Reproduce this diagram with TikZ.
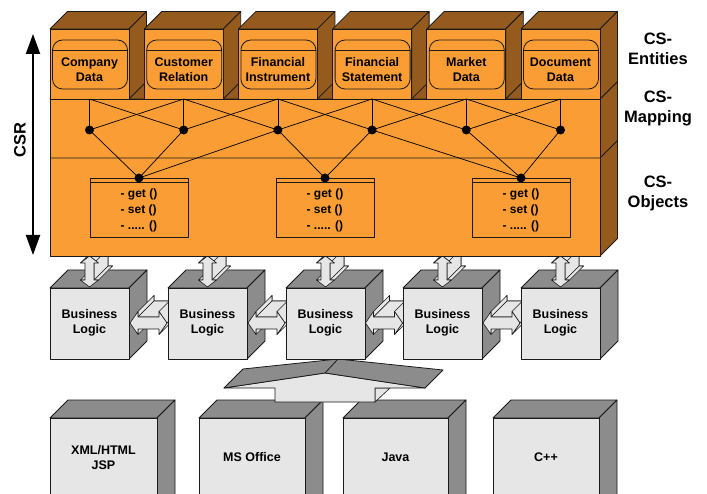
\documentclass[tikz,border=0pt]{standalone}
\usepackage{fontspec}
\setmainfont{Liberation Sans}
\usetikzlibrary{arrows.meta}
\definecolor{orF}{HTML}{FA9D35}
\definecolor{orD}{HTML}{955A1E}
\definecolor{grF}{HTML}{E6E6E6}
\definecolor{grD}{HTML}{8C8C8C}
\definecolor{ln}{HTML}{1A1A1A}
\tikzset{
  edge/.style={draw=ln, line width=0.8pt},
  thin3d/.style={fill=grF, draw=ln, line width=0.6pt},
  lbl/.style={font=\bfseries\fontsize{12.5}{15}\selectfont, align=center, text=black, inner sep=0pt},
  big/.style={font=\bfseries\fontsize{16.5}{20}\selectfont, align=center, text=black, inner sep=0pt},
  dot/.style={circle, fill=black, inner sep=0pt, minimum size=9pt},
  conn/.style={draw=black, line width=0.7pt}
}
% x, y (front top-left), w, h, depth, front colour, dark colour
\newcommand{\cubebox}[7]{%
  \filldraw[fill=#7, edge] (#1,#2) -- ++(#5,-#5) -- ++(#3,0) -- ++(-#5,#5) -- cycle;
  \filldraw[fill=#7, edge] (#1+#3,#2) -- ++(#5,-#5) -- ++(0,#4) -- ++(-#5,#5) -- cycle;
  \filldraw[fill=#6, edge] (#1,#2) rectangle ++(#3,#4);
}
\newcommand{\harrow}[1]{%
  \begin{scope}[shift={(#1)}]
    \begin{scope}[shift={(16,-16)}]
      \filldraw[thin3d] (-18.5,0) -- (-10.5,-11.5) -- (-10.5,-6) -- (10.5,-6) -- (10.5,-11.5) -- (18.5,0) -- (10.5,11.5) -- (10.5,6) -- (-10.5,6) -- (-10.5,11.5) -- cycle;
    \end{scope}
    \filldraw[thin3d] (-10.5,6) -- (-10.5,11.5) -- (5.5,-4.5) -- (5.5,-10) -- cycle;
    \filldraw[thin3d] (-10.5,-11.5) -- (-10.5,-6) -- (5.5,-22) -- (5.5,-27.5) -- cycle;
    \filldraw[thin3d] (-10.5,-6) -- (10.5,-6) -- (26.5,-22) -- (5.5,-22) -- cycle;
    \filldraw[thin3d] (10.5,-11.5) -- (18.5,0) -- (34.5,-16) -- (26.5,-27.5) -- cycle;
    \filldraw[thin3d] (18.5,0) -- (10.5,11.5) -- (26.5,-4.5) -- (34.5,-16) -- cycle;
    \filldraw[thin3d] (-18.5,0) -- (-10.5,-11.5) -- (-10.5,-6) -- (10.5,-6) -- (10.5,-11.5) -- (18.5,0) -- (10.5,11.5) -- (10.5,6) -- (-10.5,6) -- (-10.5,11.5) -- cycle;
  \end{scope}}
\newcommand{\varrow}[1]{%
  \begin{scope}[shift={(#1)}]
    \begin{scope}[shift={(14,-14)}]
      \filldraw[thin3d] (0,-15.5) -- (9,-8.5) -- (4.5,-8.5) -- (4.5,8.5) -- (9,8.5) -- (0,15.5) -- (-9,8.5) -- (-4.5,8.5) -- (-4.5,-8.5) -- (-9,-8.5) -- cycle;
    \end{scope}
    \filldraw[thin3d] (-9,8.5) -- (-4.5,8.5) -- (9.5,-5.5) -- (5,-5.5) -- cycle;
    \filldraw[thin3d] (-9,-8.5) -- (0,-15.5) -- (14,-29.5) -- (5,-22.5) -- cycle;
    \filldraw[thin3d] (0,-15.5) -- (9,-8.5) -- (23,-22.5) -- (14,-29.5) -- cycle;
    \filldraw[thin3d] (4.5,8.5) -- (9,8.5) -- (23,-5.5) -- (18.5,-5.5) -- cycle;
    \filldraw[thin3d] (4.5,-8.5) -- (4.5,8.5) -- (18.5,-5.5) -- (18.5,-22.5) -- cycle;
    \filldraw[thin3d] (0,-15.5) -- (9,-8.5) -- (4.5,-8.5) -- (4.5,8.5) -- (9,8.5) -- (0,15.5) -- (-9,8.5) -- (-4.5,8.5) -- (-4.5,-8.5) -- (-9,-8.5) -- cycle;
  \end{scope}}
\begin{document}
\begin{tikzpicture}[x=1pt,y=-1pt,line join=round]
\clip (0,0) rectangle (707,494);
\fill[white] (0,0) rectangle (707,494);

% ---------- bottom technology boxes ----------
\cubebox{50}{418}{107}{110}{18}{grF}{grD}
\cubebox{199}{418}{106}{110}{18}{grF}{grD}
\cubebox{343}{418}{105}{110}{18}{grF}{grD}
\cubebox{493}{418}{106}{110}{18}{grF}{grD}
\node[lbl] (xml)  at (103.5,457.5) {XML/HTML\\JSP};
\node[lbl] (mso)  at (252,457) {MS Office};
\node[lbl] (java) at (395.5,457) {Java};
\node[lbl] (cpp)  at (546,457) {C++};

% ---------- big 3D arrow ----------
\coordinate (ltip) at (224,388);
\coordinate (rtip) at (425,388);
\coordinate (apex) at (325,373);
\coordinate (lback) at (243,369);
\coordinate (aback) at (338,359);
\coordinate (rback) at (443,370);
\filldraw[thin3d] (375,388) -- (388,389) -- (388,389) -- (375,402) -- cycle;
\filldraw[thin3d] (375,402) -- (375,388) -- (390,388) -- cycle;
\filldraw[thin3d] (ltip) -- (apex) -- (rtip) -- (375,388) -- (375,402) -- (275,402) -- (275,388) -- cycle;
\filldraw[fill=grD, edge] (ltip) -- (lback) -- (aback) -- (rback) -- (rtip) -- (apex) -- cycle;
\draw[edge] (apex) -- (aback);

% ---------- business logic boxes with horizontal arrows ----------
\cubebox{50}{288}{79}{71}{18}{grF}{grD}
\coordinate (h1) at (148.5,323);
\harrow{h1}
\cubebox{168}{288}{79}{71}{18}{grF}{grD}
\coordinate (h2) at (266.5,323);
\harrow{h2}
\cubebox{286}{288}{79}{71}{18}{grF}{grD}
\coordinate (h3) at (384,323);
\harrow{h3}
\cubebox{403}{288}{79}{71}{18}{grF}{grD}
\coordinate (h4) at (501.5,323);
\harrow{h4}
\cubebox{521}{288}{79}{71}{18}{grF}{grD}
\node[lbl] (bl1) at (89.5,323) {Business\\Logic};
\node[lbl] (bl2) at (207.5,323) {Business\\Logic};
\node[lbl] (bl3) at (325.5,323) {Business\\Logic};
\node[lbl] (bl4) at (442.5,323) {Business\\Logic};
\node[lbl] (bl5) at (560.5,323) {Business\\Logic};

% ---------- vertical arrows ----------
\coordinate (v1) at (89.5,271.5);  \varrow{v1}
\coordinate (v2) at (207.5,271.5); \varrow{v2}
\coordinate (v3) at (325.5,271.5); \varrow{v3}
\coordinate (v4) at (442.5,271.5); \varrow{v4}
\coordinate (v5) at (560.5,271.5); \varrow{v5}

% ---------- orange block ----------
\cubebox{50}{99}{550}{157}{17.5}{orF}{orD}
\draw[edge] (50,158) -- (600,158) -- (617.5,140.5);

% entity boxes
\foreach \i/\t in {0/{Company\\Data},1/{Customer\\Relation},2/{Financial\\Instrument},3/{Financial\\Statement},4/{Market\\Data},5/{Document\\Data}} {
  \pgfmathsetmacro{\xx}{50+94.2*\i}
  \cubebox{\xx}{29}{79}{70}{17.5}{orF}{orD}
  \draw[edge, rounded corners=10pt] (\xx+2.5,40) rectangle (\xx+77.5,89);
  \draw[edge] (\xx+2.5,50) -- (\xx+77.5,50);
  \node[lbl] (ent\i) at (\xx+39.5,69.5) {\t};
  \coordinate (eb\i) at (\xx+39.5,99);
  \coordinate (m\i) at (\xx+39.5,130);
}

% object boxes
\foreach \i/\cx in {1/139,2/325,3/521} {
  \draw[edge] (\cx-49,178) rectangle (\cx+49,237);
  \draw[edge] (\cx-49,182) -- (\cx+49,182);
  \node[font=\bfseries\fontsize{12}{16}\selectfont, align=left, inner sep=0pt] (obt\i) at (\cx,210) {- get ()\\- set ()\\- ..... ()};
  \coordinate (o\i) at (\cx,178);
}

% mapping connectors
\foreach \i in {0,...,5} { \draw[conn] (eb\i) -- (m\i); }
\foreach \i/\j in {0/1,1/2,2/3,3/4,4/5} {
  \draw[conn] (eb\i) -- (m\j);
  \draw[conn] (eb\j) -- (m\i);
}
\draw[conn] (m0) -- (o1);
\draw[conn] (m1) -- (o1);
\draw[conn] (m2) -- (o1);
\draw[conn] (m2) -- (o2);
\draw[conn] (m3) -- (o2);
\draw[conn] (m3) -- (o3);
\draw[conn] (m4) -- (o3);
\draw[conn] (m5) -- (o3);
\foreach \i in {0,...,5} { \node[dot] (md\i) at (m\i) {}; }
\foreach \i in {1,2,3} { \node[dot] (od\i) at (o\i) {}; }

% ---------- CSR arrow ----------
\coordinate (csrT) at (33,34);
\coordinate (csrB) at (33,255);
\draw[line width=2pt, {Triangle[length=20pt,width=14pt]}-{Triangle[length=20pt,width=14pt]}] (csrT) -- (csrB);
\node[big, rotate=90] (csr) at (20,140) {CSR};

% ---------- right labels ----------
\node[big] (lent) at (658,49) {CS-\\Entities};
\node[big] (lmap) at (658,108) {CS-\\Mapping};
\node[big] (lobj) at (658,193) {CS-\\Objects};
\end{tikzpicture}
\end{document}
